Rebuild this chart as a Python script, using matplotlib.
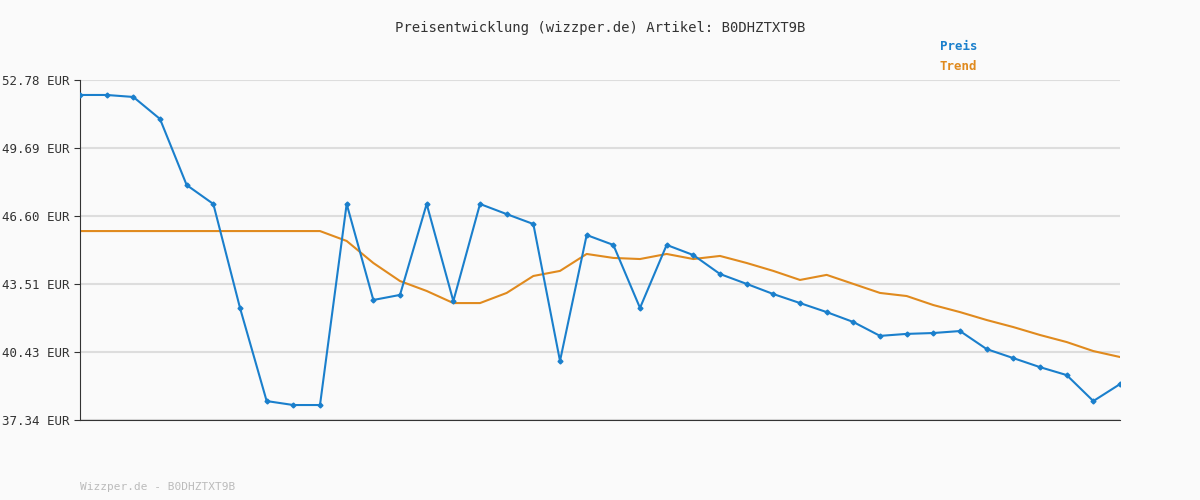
import matplotlib
matplotlib.use("Agg")
import matplotlib.pyplot as plt

preis = [52.10,52.10,52.01,51.01,48.01,47.15,42.43,38.20,38.02,38.02,47.15,42.79,43.02,47.15,42.74,
         47.15,46.69,46.24,40.02,45.74,45.29,42.43,45.29,44.83,43.97,43.52,43.06,42.65,42.24,41.79,
         41.16,41.25,41.29,41.38,40.56,40.15,39.74,39.38,38.20,38.97]
trend = [45.92]*10 + [45.47,44.47,43.65,43.20,42.65,42.65,43.11,43.88,44.11,44.88,44.70,44.65,44.88,
         44.65,44.79,44.47,44.11,43.70,43.93,43.52,43.11,42.97,42.56,42.24,41.88,41.56,41.20,40.88,40.47,40.20]
yticks = [37.34,40.43,43.51,46.60,49.69,52.78]

fig = plt.figure(figsize=(12,5), dpi=100, facecolor="#fafafa")
ax = fig.add_axes([80/1200, 80/500, 1040/1200, 340/500], facecolor="#fafafa")
x = list(range(len(preis)))
ax.plot(x, trend, color="#e08a1e", lw=1.5, zorder=2)
ax.plot(x, preis, color="#1a7fcc", lw=1.5, marker="D", ms=2.5, zorder=3)
ax.set_xlim(0, len(preis)-1)
ax.set_ylim(37.34, 52.78)
ax.set_yticks(yticks)
ax.set_yticklabels([f"{v:.2f} EUR" for v in yticks], family="DejaVu Sans Mono", fontsize=9, color="#333")
ax.set_xticks([])
ax.grid(axis="y", color="#dddddd", lw=1.5)
ax.set_axisbelow(True)
for s in ["top","right"]:
    ax.spines[s].set_visible(False)
ax.spines["left"].set_color("#333")
ax.spines["bottom"].set_color("#333")
ax.tick_params(axis="y", length=4, color="#333")
fig.text(0.5, 1-28/500, "Preisentwicklung (wizzper.de) Artikel: B0DHZTXT9B", ha="center", va="center",
         family="DejaVu Sans Mono", fontsize=10, color="#333")
fig.text(940/1200, 1-47/500, "Preis", color="#1a7fcc", family="DejaVu Sans Mono", fontsize=9, fontweight="bold", va="center")
fig.text(940/1200, 1-67/500, "Trend", color="#e08a1e", family="DejaVu Sans Mono", fontsize=9, fontweight="bold", va="center")
fig.text(80/1200, 1-487/500, "Wizzper.de - B0DHZTXT9B", color="#bbbbbb", family="DejaVu Sans Mono", fontsize=8, va="center")
fig.savefig("out.png", dpi=100, facecolor="#fafafa")
